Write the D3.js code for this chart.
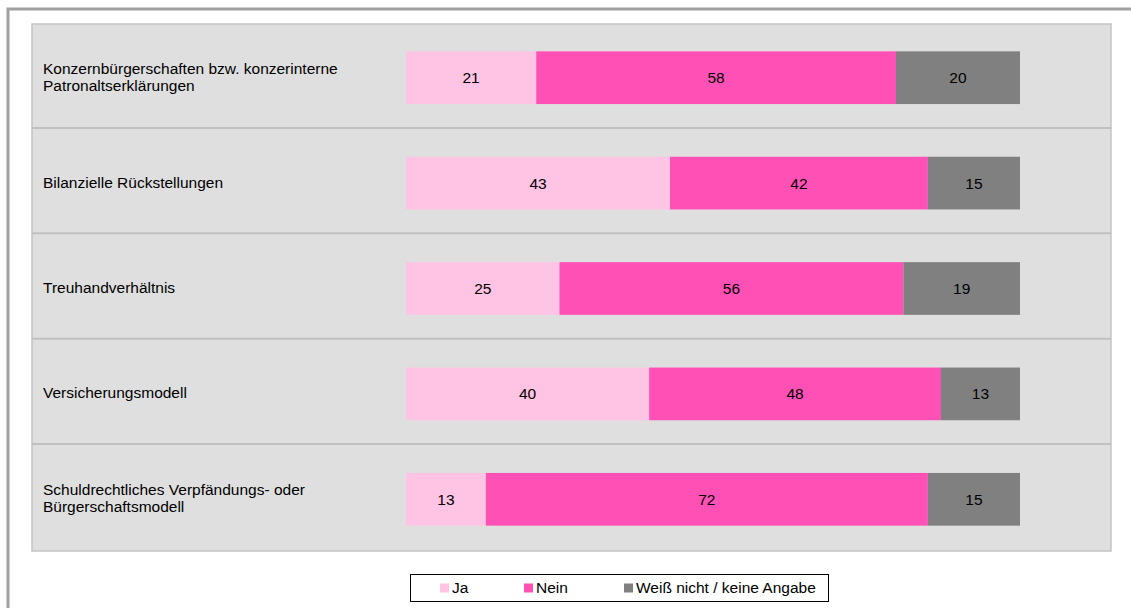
<!DOCTYPE html>
<html><head><meta charset="utf-8">
<script src="https://cdn.jsdelivr.net/npm/d3@7"></script>
<style>body{margin:0;background:#fff;}svg{display:block;font-family:"Liberation Sans",Arial,sans-serif;}</style>
</head><body>
<svg id="c" width="1131" height="608"></svg>
<script>
const categories = [
  ["Konzernbürgerschaften bzw. konzerinterne", "Patronaltserklärungen"],
  ["Bilanzielle Rückstellungen"],
  ["Treuhandverhältnis"],
  ["Versicherungsmodell"],
  ["Schuldrechtliches Verpfändungs- oder", "Bürgerschaftsmodell"]
];
const seriesNames = ["Ja", "Nein", "Weiß nicht / keine Angabe"];
const ja   = [21, 43, 25, 40, 13];
const nein = [58, 42, 56, 48, 72];
const weiss = [20, 15, 19, 13, 15];
const colors = ["#ffc3e3", "#ff50b6", "#808080"];
const FS = 15.5;

const svg = d3.select("#c");
// outer frame
svg.append("rect").attr("x", 8).attr("y", 9).attr("width", 1140).attr("height", 620)
  .attr("fill", "none").attr("stroke", "#a0a0a0").attr("stroke-width", 3);

const plot = {left: 32, top: 24, right: 1111, bottom: 551};
svg.append("rect").attr("x", plot.left).attr("y", plot.top)
  .attr("width", plot.right - plot.left).attr("height", plot.bottom - plot.top)
  .attr("fill", "#dfdfdf").attr("stroke", "#c4c4c4").attr("stroke-width", 1.5);

const idx = d3.range(categories.length);
const y = d3.scaleBand().domain(idx).range([plot.top, plot.bottom]).paddingInner(0).paddingOuter(0);
const x = d3.scaleLinear().domain([0, 1]).range([406, 1020]);

// separators
svg.append("g").selectAll("line").data(idx.slice(1)).join("line")
  .attr("x1", plot.left).attr("x2", plot.right)
  .attr("y1", d => y(d) - 1.5).attr("y2", d => y(d) - 1.5)
  .attr("stroke", "#c0c0c0").attr("stroke-width", 2);

const rows = idx.map(i => ({i, Ja: ja[i], Nein: nein[i], W: weiss[i]}));
const stack = d3.stack().keys(["Ja", "Nein", "W"]).offset(d3.stackOffsetExpand);
const layers = stack(rows);
const barH = y.bandwidth() * 0.5;

layers.forEach((layer, k) => {
  const g = svg.append("g");
  g.selectAll("rect").data(layer).join("rect")
    .attr("x", d => x(d[0])).attr("width", d => x(d[1]) - x(d[0]))
    .attr("y", d => y(d.data.i) + (y.bandwidth() - barH) / 2 + 1).attr("height", barH)
    .attr("fill", colors[k]);
  g.selectAll("text").data(layer).join("text")
    .attr("x", d => (x(d[0]) + x(d[1])) / 2)
    .attr("y", d => y(d.data.i) + y.bandwidth() / 2 + 1)
    .attr("dy", "0.35em").attr("text-anchor", "middle")
    .attr("font-size", FS).attr("fill", "#000")
    .text(d => d.data[layer.key]);
});

// category labels
const lab = svg.append("g");
categories.forEach((lines, i) => {
  const cy = y(i) + y.bandwidth() / 2;
  const lh = 17;
  const t = lab.append("text").attr("font-size", FS).attr("fill", "#000");
  lines.forEach((ln, j) => {
    t.append("tspan").attr("x", 43)
      .attr("y", cy + (j - (lines.length - 1) / 2) * lh)
      .attr("dy", "0.35em").text(ln);
  });
});

// legend
const lg = svg.append("g");
lg.append("rect").attr("x", 410.5).attr("y", 574.5).attr("width", 418).attr("height", 27)
  .attr("fill", "#fff").attr("stroke", "#000").attr("stroke-width", 1);
const lx = [440, 524, 624];
seriesNames.forEach((n, k) => {
  lg.append("rect").attr("x", lx[k]).attr("y", 583.5).attr("width", 9).attr("height", 9).attr("fill", colors[k]);
  lg.append("text").attr("x", lx[k] + 12).attr("y", 588).attr("dy", "0.35em")
    .attr("font-size", FS).attr("fill", "#000").text(n);
});
</script>
</body></html>
